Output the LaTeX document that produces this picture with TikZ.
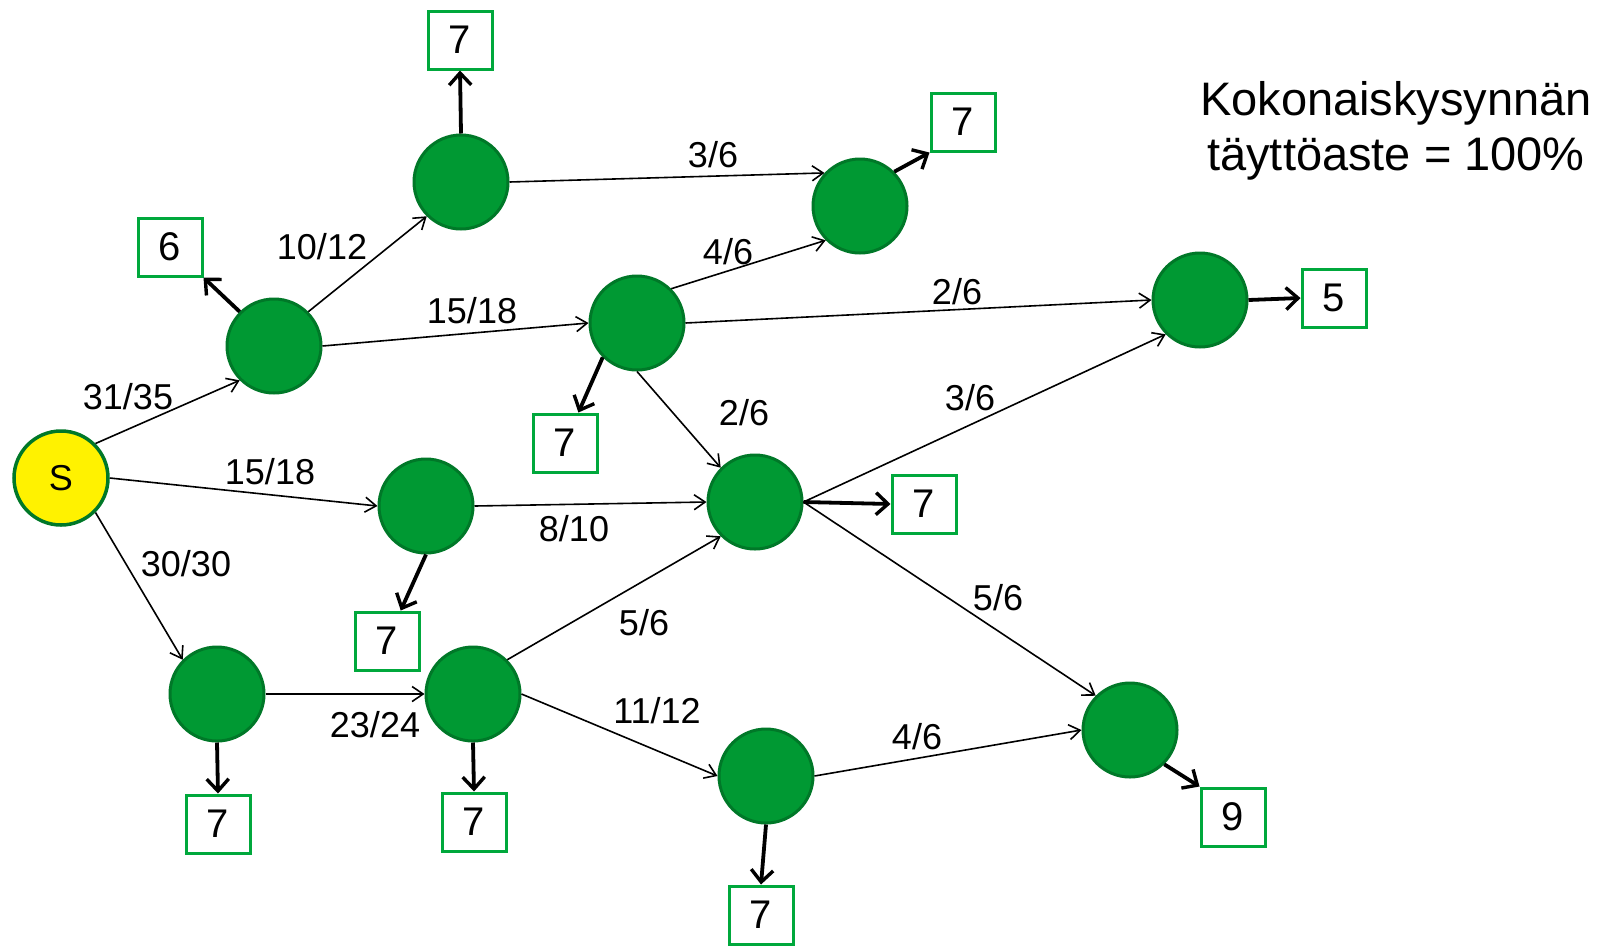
\documentclass[tikz,border=0pt]{standalone}
\usepackage{fontspec}
\setmainfont{Liberation Sans}
\usetikzlibrary{arrows.meta}
\definecolor{ngreen}{RGB}{0,153,51}
\definecolor{nborder}{RGB}{0,120,40}
\definecolor{bgreen}{RGB}{0,168,60}
\begin{document}
\begin{tikzpicture}[x=1pt,y=-1pt,
  circ/.style={circle, fill=ngreen, draw=nborder, line width=3pt, minimum size=94pt, inner sep=0pt},
  src/.style={circ, fill=yellow, line width=3.5pt, font=\fontsize{36}{40}\selectfont},
  dem/.style={draw=bgreen, line width=3pt, fill=white, minimum width=64pt, minimum height=58pt, inner sep=0pt, font=\fontsize{40}{48}\selectfont},
  lbl/.style={font=\fontsize{36}{42}\selectfont, inner sep=0pt},
  flow/.style={line width=1.6pt, -{Straight Barb[length=11pt,width=15pt,line width=1.6pt]}},
  deliver/.style={line width=3.8pt, -{Straight Barb[length=12pt,width=22pt,line width=3.4pt]}}]
\useasboundingbox (0,0) rectangle (1605,946);
% nodes
\node[src] (S) at (61,478) {S};
\node[circ] (A) at (274,346) {};
\node[circ] (B) at (461,182) {};
\node[circ] (C) at (860,206) {};
\node[circ] (D) at (637,323) {};
\node[circ] (E) at (1200,300) {};
\node[circ] (F) at (755,502) {};
\node[circ] (G) at (426,506) {};
\node[circ] (H) at (217,694) {};
\node[circ] (I) at (473,694) {};
\node[circ] (J) at (766,776) {};
\node[circ] (K) at (1130,730) {};
% demand boxes
\node[dem] (bB) at (460,40) {7};
\node[dem] (bA) at (170,247) {6};
\node[dem] (bC) at (963,122) {7};
\node[dem] (bE) at (1334,298) {5};
\node[dem] (bD) at (565,443) {7};
\node[dem] (bF) at (924,504) {7};
\node[dem] (bG) at (387,641) {7};
\node[dem] (bH) at (218,824) {7};
\node[dem] (bI) at (474,822) {7};
\node[dem] (bJ) at (761,915) {7};
\node[dem] (bK) at (1233,817) {9};
% flows
\draw[flow] (S.45) -- (A.225);
\draw[flow] (A.45) -- (B.225);
\draw[flow] (B.east) -- (C.137);
\draw[flow] (A.east) -- (D.west);
\draw[flow] (D.45) -- (C.225);
\draw[flow] (D.east) -- (E.west);
\draw[flow] (D.south) -- (F.135);
\draw[flow] (F.east) -- (E.225);
\draw[flow] (S.east) -- (G.west);
\draw[flow] (G.east) -- (F.west);
\draw[flow] (S.315) -- (H.135);
\draw[flow] (H.east) -- (I.west);
\draw[flow] (I.45) -- (F.225);
\draw[flow] (F.east) -- (K.135);
\draw[flow] (I.east) -- (J.west);
\draw[flow] (J.east) -- (K.west);
% deliveries
\draw[deliver] (B.north) -- (bB.south);
\draw[deliver] (A.135) -- (bA.south east);
\draw[deliver] (C.45) -- (bC.south west);
\draw[deliver] (E.east) -- (bE.west);
\draw[deliver] (D.225) -- (bD);
\draw[deliver] (F.east) -- (bF.west);
\draw[deliver] (G.south) -- (bG);
\draw[deliver] (H.south) -- (bH.north);
\draw[deliver] (I.south) -- (bI.north);
\draw[deliver] (J.south) -- (bJ.north);
\draw[deliver] (K.315) -- (bK.north west);
% labels
\node[lbl] (l1) at (128,397) {31/35};
\node[lbl] (l2) at (322,247) {10/12};
\node[lbl] (l3) at (713,155) {3/6};
\node[lbl] (l4) at (728,252) {4/6};
\node[lbl] (l5) at (472,311) {15/18};
\node[lbl] (l6) at (957,292) {2/6};
\node[lbl] (l7) at (744,413) {2/6};
\node[lbl] (l8) at (970,398) {3/6};
\node[lbl] (l9) at (270,472) {15/18};
\node[lbl] (l10) at (574,529) {8/10};
\node[lbl] (l11) at (186,564) {30/30};
\node[lbl] (l12) at (644,623) {5/6};
\node[lbl] (l13) at (998,598) {5/6};
\node[lbl] (l14) at (375,725) {23/24};
\node[lbl] (l15) at (657,711) {11/12};
\node[lbl] (l16) at (917,737) {4/6};
\node[font=\fontsize{47}{55}\selectfont, align=center, inner sep=0pt] (title) at (1396,131) {Kokonaiskysynnän\\täyttöaste = 100\%};
\end{tikzpicture}
\end{document}
